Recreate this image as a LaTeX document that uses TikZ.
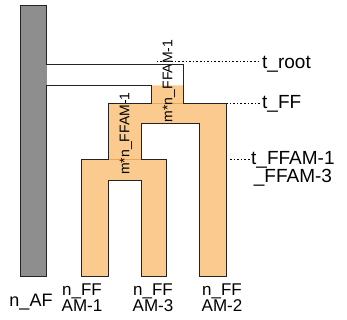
\documentclass[tikz,border=0pt]{standalone}
\usepackage{fontspec}
\setmainfont{Liberation Sans}
\usepackage{xcolor}

\definecolor{afgray}{RGB}{143,142,143}
\definecolor{famorange}{RGB}{251,202,142}
\definecolor{famline}{RGB}{240,165,80}
\definecolor{edgedark}{RGB}{38,34,35}

\begin{document}
\begin{tikzpicture}[x=1pt,y=-1pt,
    tlabel/.style={font=\fontsize{19}{17}\selectfont, inner sep=1pt, align=center},
    leaf/.style={font=\fontsize{17}{15.5}\selectfont, inner sep=0pt, align=center},
    rate/.style={font=\fontsize{14}{14}\selectfont, inner sep=0pt, rotate=90},
    timeline/.style={line width=1.1pt, dash pattern=on 1.6pt off 2pt}]
    \useasboundingbox (0,0) rectangle (347,320);

    % fills
    \fill[afgray] (20.5,5.5) rectangle (46.5,276.5);
    \fill[famorange] (151.5,85.5) -- (183.5,85.5) -- (183.5,103.5) -- (226.5,103.5) -- (226.5,276.5)
        -- (199.5,276.5) -- (199.5,123.5) -- (141.5,123.5) -- (141.5,159.5) -- (166.5,159.5)
        -- (166.5,276.5) -- (141.5,276.5) -- (141.5,180.5) -- (108.5,180.5) -- (108.5,276.5)
        -- (81.5,276.5) -- (81.5,159.5) -- (108.5,159.5) -- (108.5,103.5) -- (151.5,103.5) -- cycle;
    \draw[famline, line width=0.8pt] (151.5,103.5) -- (183.5,103.5);
    \draw[famline, line width=0.8pt] (108.5,159.5) -- (141.5,159.5);

    % migration
    \node[rate] (mroot) at (169,81) {m*n\_FFAM-1};
    \node[rate] (mff) at (126,133.5) {m*n\_FFAM-1};

    % time lines
    \node[tlabel, anchor=base west] (troot) at (261,68.3) {t\_root};
    \node[tlabel, anchor=base west] (tff) at (261,108.3) {t\_FF};
    \node[tlabel, anchor=north west] (tfam) at (250,150.5) {t\_FFAM-1\\\_FFAM-3};
    \coordinate (rootdot) at (156.7,61.5);
    \coordinate (ffdot) at (208,103.5);
    \coordinate (famdot) at (230,159.5);
    \draw[timeline] (rootdot) -- (rootdot -| troot.west);
    \draw[timeline] (ffdot) -- (ffdot -| tff.west);
    \draw[timeline] (famdot) -- (famdot -| tfam.west);

    % outline
    \draw[edgedark, line width=1.6pt] (20.5,5.5) -- (46.5,5.5) -- (46.5,64.5) -- (183.5,64.5)
        -- (183.5,103.5) -- (226.5,103.5) -- (226.5,276.5) -- (199.5,276.5) -- (199.5,123.5)
        -- (141.5,123.5) -- (141.5,159.5) -- (166.5,159.5) -- (166.5,276.5) -- (141.5,276.5)
        -- (141.5,180.5) -- (108.5,180.5) -- (108.5,276.5) -- (81.5,276.5) -- (81.5,159.5)
        -- (108.5,159.5) -- (108.5,103.5) -- (151.5,103.5) -- (151.5,85.5) -- (46.5,85.5)
        -- (46.5,276.5) -- (20.5,276.5) -- cycle;

    % samples
    \node[font=\fontsize{18}{18}\selectfont, inner sep=0pt, anchor=base] (naf) at (31,306.7) {n\_AF};
    \node[leaf, anchor=north] (nff1) at (82,284) {n\_FF\\AM-1};
    \node[leaf, anchor=north] (nff3) at (153,284) {n\_FF\\AM-3};
    \node[leaf, anchor=north] (nff2) at (222,284) {n\_FF\\AM-2};
\end{tikzpicture}
\end{document}
